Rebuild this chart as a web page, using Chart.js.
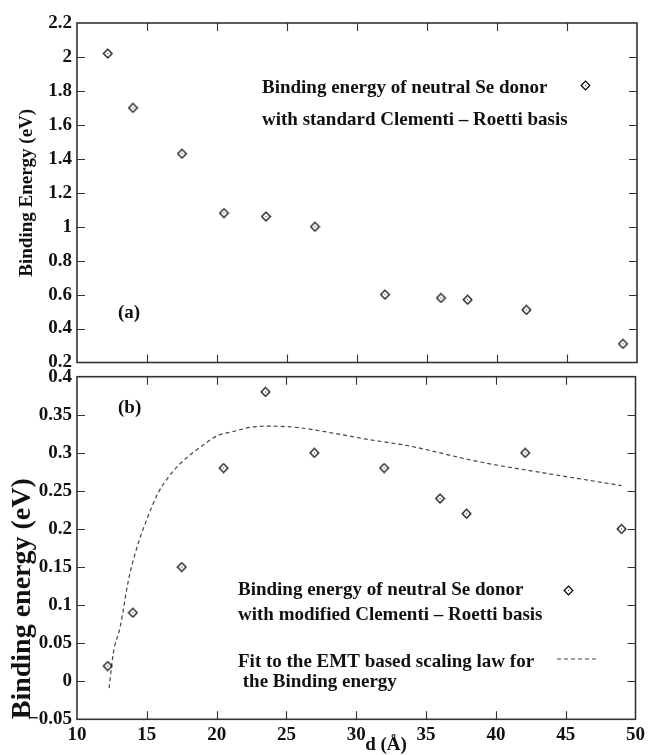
<!DOCTYPE html>
<html>
<head>
<meta charset="utf-8">
<script src="https://cdn.jsdelivr.net/npm/chart.js@4/dist/chart.umd.min.js"></script>
<style>
  html, body { margin: 0; padding: 0; background: #fff; }
  #wrap { position: relative; width: 649px; height: 755px; overflow: hidden; background: #fff; }
  canvas { position: absolute; left: 0; }
  #c1 { top: 0; }
  #c2 { top: 360px; }
</style>
</head>
<body>
<div id="wrap">
  <canvas id="c1" width="649" height="380"></canvas>
  <canvas id="c2" width="649" height="395"></canvas>
</div>
<script>
// ---------------- data ----------------
const dTop  = [12.2, 14.0, 17.5, 20.5, 23.5, 27.0, 32.0, 36.0, 37.9, 42.1, 49.0];
const beTop = [2.02, 1.70, 1.43, 1.08, 1.06, 1.00, 0.60, 0.58, 0.57, 0.51, 0.31];

const dBottom  = [12.2, 14.0, 17.5, 20.5, 23.5, 27.0, 32.0, 36.0, 37.9, 42.1, 49.0];
const beBottom = [0.02, 0.09, 0.15, 0.28, 0.38, 0.30, 0.28, 0.24, 0.22, 0.30, 0.20];

const fitD  = [12.3, 12.6, 13.1, 13.7, 14.4, 15.1, 15.8, 16.8, 17.7, 19.1, 20.0, 21.2, 22.6, 24.0, 25.9, 28.3, 30.7, 33.8, 38.6, 43.3, 49.0];
const fitBE = [-0.009, 0.037, 0.072, 0.134, 0.182, 0.217, 0.247, 0.274, 0.291, 0.311, 0.322, 0.328, 0.334, 0.335, 0.333, 0.326, 0.318, 0.309, 0.289, 0.274, 0.257];

const xTicks    = [10, 15, 20, 25, 30, 35, 40, 45, 50];
const yTopTicks = [0.2, 0.4, 0.6, 0.8, 1, 1.2, 1.4, 1.6, 1.8, 2, 2.2];
const yBotTicks = [-0.05, 0, 0.05, 0.1, 0.15, 0.2, 0.25, 0.3, 0.35, 0.4];

const xTitle    = 'd (Å)';
const yTopTitle = 'Binding Energy (eV)';
const yBotTitle = 'Binding energy (eV)';
const topLegend = ['Binding energy of neutral Se donor', 'with standard Clementi \u2013 Roetti basis'];
const botLegend = ['Binding energy of neutral Se donor', 'with modified Clementi \u2013 Roetti basis'];
const fitLegend = ['Fit to the EMT based scaling law for', ' the Binding energy'];

// ---------------- styling ----------------
const SERIF = '"Liberation Serif", "Times New Roman", Times, serif';
Chart.defaults.font.family = SERIF;
Chart.defaults.color = '#111';
const FRAME = '#333';

function makeDiamond() {
  const c = document.createElement('canvas');
  c.width = 11; c.height = 11;
  const g = c.getContext('2d');
  g.strokeStyle = '#000'; g.lineWidth = 1.2;
  g.beginPath();
  g.moveTo(5.5, 1.2); g.lineTo(9.8, 5.5); g.lineTo(5.5, 9.8); g.lineTo(1.2, 5.5);
  g.closePath(); g.stroke();
  g.fillStyle = '#222'; g.fillRect(5, 5, 1, 1);
  return c;
}
const diamond = makeDiamond();

const fmt = v => String(+v.toFixed(4)).replace('-', '\u2212');

function framePlugin(opts) {
  return {
    id: 'frame' + opts.key,
    afterDraw(chart) {
      const ctx = chart.ctx, a = chart.chartArea;
      const xs = chart.scales.x, ys = chart.scales.y;
      ctx.save();
      ctx.strokeStyle = FRAME;
      ctx.lineWidth = 1.6;
      ctx.strokeRect(a.left, a.top, a.right - a.left, a.bottom - a.top);
      ctx.lineWidth = 1.1;
      const L = 8;
      ctx.beginPath();
      xTicks.slice(1, -1).forEach(v => {
        const px = Math.round(xs.getPixelForValue(v)) + 0.5;
        ctx.moveTo(px, a.top); ctx.lineTo(px, a.top + L);
        ctx.moveTo(px, a.bottom); ctx.lineTo(px, a.bottom - L);
      });
      opts.yTicks.slice(1, -1).forEach(v => {
        const py = Math.round(ys.getPixelForValue(v)) + 0.5;
        ctx.moveTo(a.left, py); ctx.lineTo(a.left + L, py);
        ctx.moveTo(a.right, py); ctx.lineTo(a.right - L, py);
      });
      ctx.stroke();

      // annotations / legend
      ctx.fillStyle = '#111';
      ctx.textBaseline = 'middle';
      ctx.textAlign = 'left';
      opts.texts.forEach(t => {
        ctx.font = 'bold ' + (t.size || 19) + 'px ' + SERIF;
        ctx.textAlign = t.align || 'left';
        ctx.fillText(t.text, t.x, t.y);
      });
      (opts.markers || []).forEach(m => ctx.drawImage(diamond, Math.round(m.x) - 5.5 + 0.5, Math.round(m.y) - 5.5 + 0.5));
      (opts.dashes || []).forEach(d => {
        ctx.strokeStyle = '#444'; ctx.lineWidth = 1.2; ctx.setLineDash([4, 3]);
        ctx.beginPath(); ctx.moveTo(d.x1, d.y); ctx.lineTo(d.x2, d.y); ctx.stroke();
        ctx.setLineDash([]);
      });
      ctx.restore();
    }
  };
}

function yScale(ticks, title, titleSize, titlePad, align) {
  return {
    type: 'linear',
    min: ticks[0], max: ticks[ticks.length - 1],
    afterBuildTicks: s => { s.ticks = ticks.map(v => ({ value: v })); },
    ticks: { font: { size: 19, weight: 'bold' }, padding: 5, callback: v => fmt(v), color: '#111' },
    grid: { drawOnChartArea: false, drawTicks: false },
    border: { display: false },
    title: { display: true, text: title, align: align, font: { size: titleSize, weight: 'bold' }, padding: { top: titlePad, bottom: 0 }, color: '#111' },
    afterFit: s => { s.width = 77; }
  };
}

// ---------------- top panel ----------------
new Chart(document.getElementById('c1'), {
  type: 'scatter',
  data: {
    datasets: [{
      data: dTop.map((d, i) => ({ x: d, y: beTop[i] })),
      pointStyle: diamond, pointRadius: 5, showLine: false
    }]
  },
  options: {
    responsive: false, animation: false, devicePixelRatio: 1,
    layout: { padding: { top: 23, right: 12, bottom: 380 - 362.5, left: 0 } },
    plugins: { legend: { display: false }, tooltip: { enabled: false } },
    scales: {
      x: { type: 'linear', min: 10, max: 50, display: false },
      y: yScale(yTopTicks, yTopTitle, 19, 16, 'center')
    }
  },
  plugins: [framePlugin({
    key: 'top', yTicks: yTopTicks,
    texts: [
      { text: topLegend[0], x: 262, y: 88 },
      { text: topLegend[1], x: 262, y: 120 },
      { text: '(a)', x: 118, y: 313 }
    ],
    markers: [{ x: 585, y: 85 }]
  })]
});

// ---------------- bottom panel ----------------
new Chart(document.getElementById('c2'), {
  type: 'scatter',
  data: {
    datasets: [
      {
        data: dBottom.map((d, i) => ({ x: d, y: beBottom[i] })),
        pointStyle: diamond, pointRadius: 5, showLine: false, order: 1
      },
      {
        data: fitD.map((d, i) => ({ x: d, y: fitBE[i] })),
        showLine: true, pointRadius: 0, borderColor: '#444', borderWidth: 1.2,
        borderDash: [4, 3], cubicInterpolationMode: 'monotone', fill: false, order: 2
      }
    ]
  },
  options: {
    responsive: false, animation: false, devicePixelRatio: 1,
    layout: { padding: { top: 16.7, right: 12, bottom: 0, left: 0 } },
    plugins: { legend: { display: false }, tooltip: { enabled: false } },
    scales: {
      x: {
        type: 'linear', min: 10, max: 50,
        afterBuildTicks: s => { s.ticks = xTicks.map(v => ({ value: v })); },
        ticks: { font: { size: 19, weight: 'bold' }, padding: 4, maxRotation: 0, callback: v => fmt(v), color: '#111' },
        grid: { drawOnChartArea: false, drawTicks: false },
        border: { display: false },
        afterFit: s => { s.height = 395 - 359.3; }
      },
      y: yScale(yBotTicks, yBotTitle, 28, 6, 'start')
    }
  },
  plugins: [framePlugin({
    key: 'bot', yTicks: yBotTicks,
    texts: [
      { text: '(b)', x: 118, y: 48 },
      { text: botLegend[0], x: 238, y: 230 },
      { text: botLegend[1], x: 238, y: 255 },
      { text: fitLegend[0], x: 238, y: 302 },
      { text: fitLegend[1], x: 238, y: 322 },
      { text: xTitle, x: 386, y: 385, align: 'center' }
    ],
    markers: [{ x: 568, y: 230 }],
    dashes: [{ x1: 557, x2: 597, y: 299 }]
  })]
});
</script>
</body>
</html>
